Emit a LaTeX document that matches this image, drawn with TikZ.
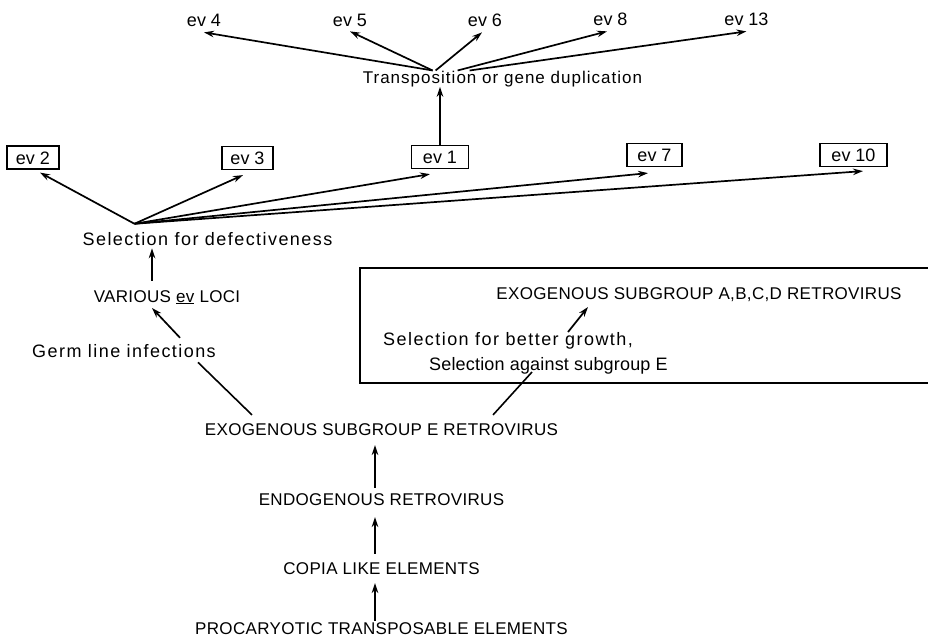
\documentclass[tikz,border=0pt]{standalone}
\usepackage{fontspec}
\setmainfont{Liberation Sans}
\newfontfamily\evfamily{Liberation Sans}
\newfontfamily\capsfamily[LetterSpace=2]{Liberation Sans}
\newfontfamily\handfamily[LetterSpace=8]{Liberation Sans}
\newcommand{\evfont}{\evfamily\fontsize{18}{20}\selectfont}
\newcommand{\capsfont}{\capsfamily\fontsize{17}{20}\selectfont}
\newcommand{\handfont}{\handfamily\fontsize{18}{20}\selectfont}
\usepackage{tikz}
\usetikzlibrary{arrows.meta,positioning}

\begin{document}
\begin{tikzpicture}[
            x=1pt, y=-1pt,
            >={Stealth[length=10pt,width=6.5pt]},
            % --- node styles ---
            evlabel/.style={
                font=\evfont, inner sep=0pt, anchor=base
            },
            evbox/.style={
                draw, line width=1.2pt, font=\evfont,
                inner xsep=8pt, inner ysep=5pt,
                text height=13pt, text depth=0pt
            },
            caps/.style={
                font=\capsfont, inner sep=0pt, anchor=base
            },
            hand/.style={
                font=\handfont, inner sep=0pt, anchor=base
            },
            % --- edge styles ---
            arr/.style={->, line width=1.7pt},
            link/.style={line width=1.6pt},
            frame/.style={line width=1.5pt}
        ]

        \useasboundingbox (0,0) rectangle (928,643);

        % ============================================================
        %  Layout in pixel units (x right, y down), 928 x 643.
        %  Chain of origins centred at x=381.5 at the bottom,
        %  ev loci fanned out across the top.
        % ============================================================

        % --- Row 0: ev loci from transposition ---
        \node[evlabel] (ev4)  at (204,26)   {ev 4};
        \node[evlabel] (ev5)  at (350,26)   {ev 5};
        \node[evlabel] (ev6)  at (485,26)   {ev 6};
        \node[evlabel] (ev8)  at (610.5,25) {ev 8};
        \node[evlabel] (ev13) at (746.5,25) {ev 13};

        \node[hand] (trans) at (502.5,83)
            {\fontsize{17}{20}\selectfont\addfontfeature{LetterSpace=6}Transposition or gene duplication};

        % --- Row 1: boxed ev loci ---
        \node[evbox, minimum width=52pt] (ev2)  at (33,157.5)  {ev 2};
        \node[evbox, minimum width=51pt] (ev3)  at (247.5,158) {ev 3};
        \node[evbox, minimum width=57pt] (ev1)  at (440,157)   {ev 1};
        \node[evbox, minimum width=55pt] (ev7)  at (654.5,155) {ev 7};
        \node[evbox, minimum width=67pt] (ev10) at (853.5,155) {ev 10};

        % --- Left column ---
        \node[hand] (defect)  at (207.5,245) {Selection for defectiveness};
        \node[caps] (various) at (167,302)   {VARIOUS \underline{ev} LOCI};
        \node[hand] (germ)    at (124,357)   {Germ line infections};

        % --- Framed branch (right) ---
        \node[caps] (exoABCD) at (699,299) {EXOGENOUS SUBGROUP A,B,C,D RETROVIRUS};
        \node[hand, anchor=base west] (better)  at (383,345) {Selection for better growth,};
        \node[hand, anchor=base west] (against) at (429,370)
            {\addfontfeature{LetterSpace=1}Selection against subgroup E};
        \draw[frame] (360,268) rectangle (945,383);

        % --- Chain of origins (bottom) ---
        \node[caps] (exoE)  at (381.5,435) {EXOGENOUS SUBGROUP E RETROVIRUS};
        \node[caps] (endo)  at (381.5,505) {ENDOGENOUS RETROVIRUS};
        \node[caps] (copia) at (381.5,574) {COPIA LIKE ELEMENTS};
        \node[caps] (proc)  at (381.5,634) {PROCARYOTIC TRANSPOSABLE ELEMENTS};

        % ===== Arrows: chain of origins =====
        \draw[arr] ([xshift=-6.5pt,yshift=1pt]proc.north)  -- ([xshift=-6.5pt,yshift=-9pt]copia.base);
        \draw[arr] ([xshift=-6.5pt,yshift=8pt]copia.north) -- ([xshift=-6.5pt,yshift=-12pt]endo.base);
        \draw[arr] ([xshift=-6.5pt,yshift=5pt]endo.north)  -- ([xshift=-6.5pt,yshift=-10pt]exoE.base);

        % ===== Lines: subgroup E splits =====
        \draw[link] ([xshift=-129.5pt,yshift=8pt]exoE.north) -- ([xshift=74pt,yshift=-5pt]germ.south);
        \draw[link] ([xshift=111.5pt,yshift=8pt]exoE.north) -- ([xshift=103pt,yshift=-2pt]against.base west);
        \draw[arr] ([xshift=185pt,yshift=13pt]better.base west) -- ([xshift=-111pt,yshift=-8pt]exoABCD.base);

        % ===== Arrows: left column =====
        \draw[arr] ([xshift=56pt,yshift=6pt]germ.north) -- ([xshift=-15pt,yshift=-6pt]various.base);
        \draw[arr] ([xshift=-15pt,yshift=9pt]various.north) -- ([xshift=-55.5pt,yshift=-3pt]defect.south);

        % ===== Arrows: fan to boxed loci =====
        \coordinate (fan) at ([xshift=52pt,yshift=8pt]defect.north west);
        \draw[arr] (fan) -- ([xshift=7pt,yshift=-3pt]ev2.south);
        \draw[arr] (fan) -- ([xshift=-4.5pt,yshift=-5pt]ev3.south);
        \draw[arr] (fan) -- ([xshift=-10pt,yshift=-5pt]ev1.south);
        \draw[arr] (fan) -- ([xshift=-6.5pt,yshift=-6pt]ev7.south);
        \draw[arr] (fan) -- ([xshift=9.5pt,yshift=-4pt]ev10.south);

        % ===== Arrows: transposition =====
        \draw[arr] (ev1.north) -- (ev1.north |- trans.south);
        \draw[arr] ([xshift=70pt]trans.north west)  -- ([yshift=-6pt]ev4.south);
        \draw[arr] ([xshift=70pt]trans.north west)  -- ([yshift=-5pt]ev5.south);
        \draw[arr] ([xshift=73pt]trans.north west)  -- ([xshift=-3pt,yshift=-6pt]ev6.south);
        \draw[arr] ([xshift=95pt]trans.north west)  -- ([xshift=-3.5pt,yshift=-6pt]ev8.south);
        \draw[arr] ([xshift=107pt]trans.north west) -- ([yshift=-6pt]ev13.south);

        \end{tikzpicture}
\end{document}
